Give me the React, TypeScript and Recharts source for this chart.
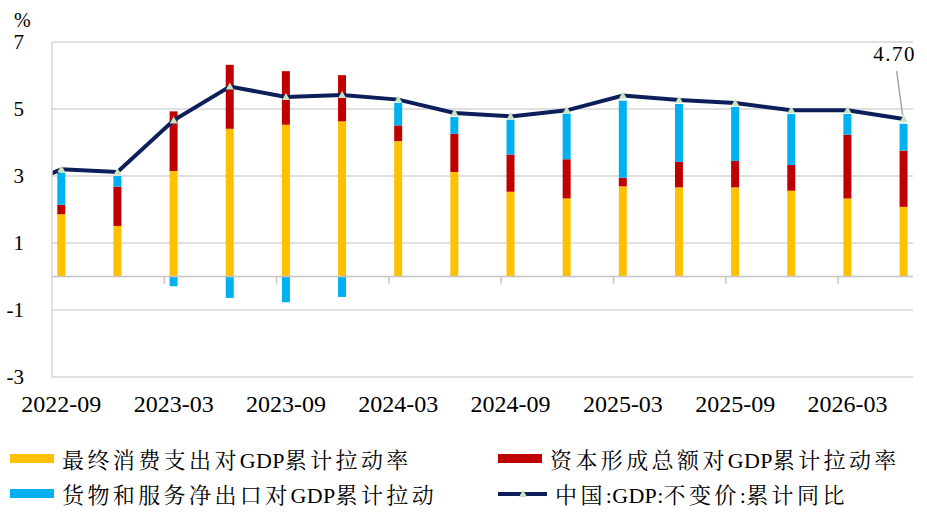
import React from "react";
import {
  ComposedChart,
  Bar,
  Line,
  XAxis,
  YAxis,
  CartesianGrid,
  ReferenceLine,
  Legend,
  LabelList,
} from "recharts";

// quarterly cumulative figures, % ; the 2022-06 point only feeds the clipped line stub
const periods = [
  "2022-06", "2022-09", "2022-12", "2023-03", "2023-06", "2023-09", "2023-12",
  "2024-03", "2024-06", "2024-09", "2024-12", "2025-03", "2025-06", "2025-09",
  "2025-12", "2026-03", "2026-06",
];
const consumption = [null, 1.86, 1.51, 3.15, 4.41, 4.53, 4.63, 4.04, 3.12, 2.53, 2.33, 2.69, 2.66, 2.66, 2.56, 2.33, 2.08];
const capital = [null, 0.28, 1.17, 1.78, 1.91, 1.6, 1.38, 0.47, 1.14, 1.11, 1.17, 0.26, 0.76, 0.79, 0.77, 1.9, 1.68];
const netExports = [null, 0.96, 0.32, -0.29, -0.64, -0.77, -0.61, 0.67, 0.5, 1.04, 1.36, 2.3, 1.73, 1.61, 1.52, 0.62, 0.8];
const gdp = [2.5, 3.2, 3.12, 4.66, 5.67, 5.36, 5.42, 5.28, 4.88, 4.78, 4.96, 5.4, 5.27, 5.18, 4.96, 4.96, 4.7];

const xTickLabels = ["2022-09", "2023-03", "2023-09", "2024-03", "2024-09", "2025-03", "2025-09", "2026-03"];
const yTicks = [-3, -1, 1, 3, 5, 7];

const seriesNames = {
  consumption: "最终消费支出对GDP累计拉动率",
  capital: "资本形成总额对GDP累计拉动率",
  netExports: "货物和服务净出口对GDP累计拉动",
  gdp: "中国:GDP:不变价:累计同比",
};

const YELLOW = "#ffc000";
const RED = "#c00000";
const BLUE = "#00b0f0";
const NAVY = "#0c1f5b";
const MARKER = "#c9e2c0";
const GRID = "#d6d6d6";
const SERIF = "'Liberation Serif', 'Times New Roman', serif";
const CJK = "'Liberation Serif', 'Noto Serif CJK SC', 'Noto Sans CJK SC', serif";

// months since 2022-09, so the axis works like a monthly date axis
const monthIndex = (p: string) => {
  const [y, m] = p.split("-").map(Number);
  return (y - 2022) * 12 + m - 9;
};

const data = periods.map((p, i) => ({
  t: monthIndex(p),
  period: p,
  consumption: consumption[i],
  capital: capital[i],
  netExports: netExports[i],
  gdp: gdp[i],
}));

const xTicks = xTickLabels.map(monthIndex);
const tickMarks = xTicks.slice(1).map((t) => t - 0.5);

const XTick = (props: any) => {
  const { x, y, payload } = props;
  return (
    <text x={x} y={y} dy="0.71em" textAnchor="middle" fill="#000" style={{ fontFamily: SERIF, fontSize: 24 }}>
      {xTickLabels[xTicks.indexOf(payload.value)] ?? ""}
    </text>
  );
};

const YTick = (props: any) => {
  const { x, y, payload } = props;
  return (
    <text x={x} y={y} dy="0.355em" textAnchor="end" fill="#000" style={{ fontFamily: SERIF, fontSize: 21 }}>
      {payload.value}
    </text>
  );
};

const renderDot = (props: any) => {
  const { cx, cy, index } = props;
  if (index === 0 || cx == null) return <g key={`dot-${index}`} />;
  return (
    <path
      key={`dot-${index}`}
      d={`M${cx},${cy - 4} L${cx - 4},${cy + 3} L${cx + 4},${cy + 3} Z`}
      fill={MARKER}
    />
  );
};

const LastLabel = (props: any) => {
  const { x, y, index, value } = props;
  if (index !== data.length - 1) return null;
  return (
    <g>
      <line x1={x - 7} y1={y - 48} x2={x - 1} y2={y - 4} stroke="#a6a6a6" strokeWidth={1.5} />
      <text
        x={x - 9}
        y={y - 58}
        textAnchor="middle"
        fill="#000"
        style={{ fontFamily: SERIF, fontSize: 21, letterSpacing: 1.5 }}
      >
        {Number(value).toFixed(2)}
      </text>
    </g>
  );
};

// CJK runs get the loose spacing of the original, Latin runs stay tight
function SpacedText({ text }: { text: string }) {
  const runs = text.match(/[\u4e00-\u9fff]+|[^\u4e00-\u9fff]+/g) ?? [];
  return (
    <>
      {runs.map((r, i) => (
        <span key={i} style={{ letterSpacing: /[\u4e00-\u9fff]/.test(r) ? 3.4 : 0.3 }}>
          {r}
        </span>
      ))}
    </>
  );
}

function LegendItem({ kind, color, text }: { kind: "bar" | "line"; color: string; text: string }) {
  return (
    <div style={{ display: "flex", alignItems: "center", height: 35 }}>
      {kind === "bar" ? (
        <div style={{ width: 44, height: 9, background: color, marginRight: 8 }} />
      ) : (
        <svg width={49} height={12} style={{ marginRight: 8 }}>
          <line x1={0} y1={6} x2={49} y2={6} stroke={color} strokeWidth={4} />
          <path d="M25,2 L21,9 L29,9 Z" fill={MARKER} />
        </svg>
      )}
      <span style={{ fontFamily: CJK, fontSize: 22, color: "#000", whiteSpace: "nowrap" }}>
        <SpacedText text={text} />
      </span>
    </div>
  );
}

function LegendBox() {
  return (
    <div style={{ position: "relative", width: 927, height: 72 }}>
      <div style={{ position: "absolute", left: 10, top: 0 }}>
        <LegendItem kind="bar" color={YELLOW} text={seriesNames.consumption} />
        <LegendItem kind="bar" color={BLUE} text={seriesNames.netExports} />
      </div>
      <div style={{ position: "absolute", left: 498, top: 0 }}>
        <LegendItem kind="bar" color={RED} text={seriesNames.capital} />
        <LegendItem kind="line" color={NAVY} text={seriesNames.gdp} />
      </div>
    </div>
  );
}

export default function App() {
  return (
    <div style={{ position: "absolute", left: 0, top: 0, width: 927, height: 513, background: "#fff" }}>
      <ComposedChart
        width={927}
        height={513}
        data={data}
        stackOffset="sign"
        margin={{ top: 42, right: 14, bottom: 96, left: 0 }}
      >
        <CartesianGrid vertical={false} stroke={GRID} strokeWidth={1.5} />
        <XAxis
          dataKey="t"
          type="number"
          domain={[-0.5, 45.5]}
          allowDataOverflow
          ticks={xTicks}
          interval={0}
          axisLine={false}
          tickLine={false}
          tickSize={0}
          tickMargin={18}
          height={40}
          tick={XTick}
        />
        <YAxis
          type="number"
          domain={[-3, 7]}
          ticks={yTicks}
          interval={0}
          width={52}
          axisLine={{ stroke: GRID, strokeWidth: 1.5 }}
          tickLine={false}
          tickSize={0}
          tickMargin={28}
          tick={YTick}
          label={{
            content: () => (
              <text x={14} y={27} fill="#000" style={{ fontFamily: SERIF, fontSize: 20 }}>
                %
              </text>
            ),
          }}
        />
        <ReferenceLine y={0} stroke="#c4c4c4" strokeWidth={1.5} />
        {tickMarks.map((t) => (
          <ReferenceLine
            key={t}
            segment={[
              { x: t, y: 0 },
              { x: t, y: -0.21 },
            ]}
            stroke="#c4c4c4"
            strokeWidth={1.5}
          />
        ))}
        <Bar dataKey="consumption" name={seriesNames.consumption} stackId="a" fill={YELLOW} barSize={8} isAnimationActive={false} />
        <Bar dataKey="capital" name={seriesNames.capital} stackId="a" fill={RED} barSize={8} isAnimationActive={false} />
        <Bar dataKey="netExports" name={seriesNames.netExports} stackId="a" fill={BLUE} barSize={8} isAnimationActive={false} />
        <Line
          dataKey="gdp"
          name={seriesNames.gdp}
          type="linear"
          stroke={NAVY}
          strokeWidth={4}
          dot={renderDot}
          activeDot={false}
          isAnimationActive={false}
        >
          <LabelList dataKey="gdp" content={LastLabel} />
        </Line>
        <Legend
          content={<LegendBox />}
          layout="horizontal"
          align="center"
          verticalAlign="middle"
          wrapperStyle={{ position: "absolute", left: 0, top: 441, width: 927 }}
        />
      </ComposedChart>
    </div>
  );
}
